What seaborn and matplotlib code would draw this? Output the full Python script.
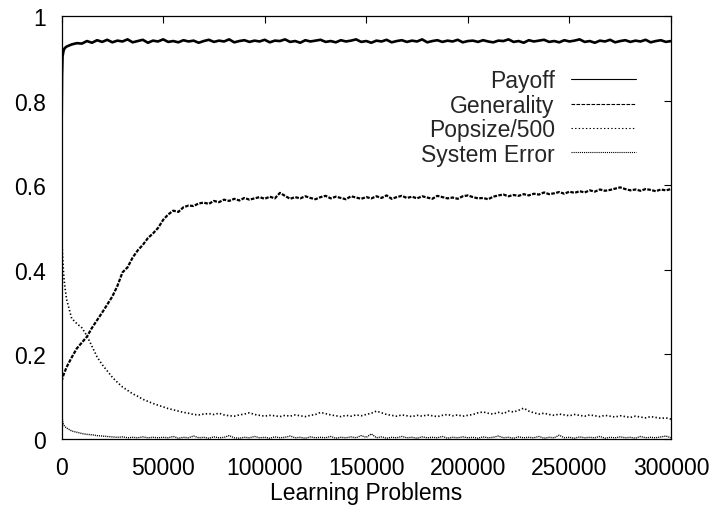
import matplotlib
matplotlib.use("Agg")
import matplotlib.pyplot as plt
import seaborn as sns
import pandas as pd

# ---------------- data ----------------
x_head = [0, 250, 500, 1000, 1500]
x_body = list(range(2500, 300001, 2500))
learning_problems = x_head + x_body

payoff = [0.72, 0.86, 0.905, 0.918, 0.924,
    0.928, 0.933, 0.936, 0.935, 0.941, 0.937, 0.943, 0.939, 0.944, 0.938,
    0.942, 0.940, 0.945, 0.938, 0.941, 0.944, 0.937, 0.942, 0.940, 0.945,
    0.939, 0.941, 0.938, 0.943, 0.940, 0.942, 0.937, 0.941, 0.944, 0.939,
    0.942, 0.940, 0.945, 0.938, 0.941, 0.943, 0.939, 0.942, 0.940, 0.944,
    0.938, 0.942, 0.941, 0.945, 0.939, 0.941, 0.937, 0.943, 0.940, 0.942,
    0.944, 0.939, 0.941, 0.938, 0.943, 0.940, 0.942, 0.945, 0.939, 0.941,
    0.937, 0.942, 0.940, 0.944, 0.938, 0.941, 0.943, 0.939, 0.942, 0.940,
    0.945, 0.938, 0.941, 0.943, 0.939, 0.942, 0.940, 0.944, 0.938, 0.941,
    0.942, 0.939, 0.943, 0.940, 0.938, 0.942, 0.941, 0.945, 0.939, 0.941,
    0.937, 0.943, 0.940, 0.942, 0.944, 0.939, 0.941, 0.938, 0.943, 0.940,
    0.942, 0.945, 0.939, 0.941, 0.937, 0.942, 0.940, 0.944, 0.938, 0.941,
    0.943, 0.939, 0.942, 0.940, 0.944, 0.938, 0.941, 0.943, 0.939, 0.941]

generality = [0.137, 0.140, 0.145, 0.152, 0.158,
    0.170, 0.193, 0.214, 0.228, 0.242, 0.263, 0.281, 0.299, 0.318, 0.337,
    0.362, 0.394, 0.406, 0.429, 0.446, 0.459, 0.475, 0.486, 0.499, 0.518,
    0.531, 0.540, 0.537, 0.548, 0.552, 0.551, 0.557, 0.559, 0.556, 0.563,
    0.560, 0.566, 0.563, 0.568, 0.564, 0.570, 0.566, 0.569, 0.572, 0.568,
    0.573, 0.569, 0.582, 0.575, 0.568, 0.572, 0.569, 0.574, 0.570, 0.567,
    0.572, 0.575, 0.569, 0.573, 0.570, 0.567, 0.574, 0.571, 0.568, 0.572,
    0.569, 0.574, 0.570, 0.576, 0.568, 0.572, 0.575, 0.570, 0.573, 0.569,
    0.574, 0.571, 0.568, 0.575, 0.572, 0.569, 0.571, 0.568, 0.574, 0.576,
    0.572, 0.569, 0.570, 0.567, 0.573, 0.576, 0.578, 0.574, 0.577, 0.575,
    0.579, 0.576, 0.580, 0.578, 0.583, 0.579, 0.581, 0.584, 0.580, 0.585,
    0.582, 0.586, 0.583, 0.588, 0.585, 0.590, 0.587, 0.589, 0.592, 0.595,
    0.591, 0.588, 0.590, 0.587, 0.591, 0.589, 0.586, 0.590, 0.588, 0.591]

popsize_500 = [0.500, 0.465, 0.435, 0.392, 0.365,
    0.330, 0.285, 0.273, 0.263, 0.244, 0.219, 0.194, 0.176, 0.161, 0.146,
    0.134, 0.123, 0.115, 0.107, 0.101, 0.094, 0.089, 0.084, 0.080, 0.076,
    0.072, 0.069, 0.066, 0.063, 0.061, 0.058, 0.057, 0.059, 0.060, 0.058,
    0.061, 0.057, 0.055, 0.054, 0.057, 0.059, 0.062, 0.058, 0.056, 0.054,
    0.056, 0.055, 0.053, 0.056, 0.054, 0.057, 0.055, 0.053, 0.056, 0.058,
    0.063, 0.060, 0.057, 0.055, 0.053, 0.056, 0.054, 0.057, 0.055, 0.058,
    0.061, 0.066, 0.062, 0.058, 0.056, 0.054, 0.057, 0.055, 0.053, 0.056,
    0.054, 0.057, 0.055, 0.053, 0.056, 0.058, 0.055, 0.057, 0.054, 0.056,
    0.058, 0.062, 0.064, 0.061, 0.059, 0.063, 0.060, 0.066, 0.064, 0.068,
    0.073, 0.066, 0.062, 0.059, 0.061, 0.058, 0.056, 0.059, 0.057, 0.055,
    0.058, 0.056, 0.054, 0.057, 0.055, 0.053, 0.056, 0.054, 0.052, 0.055,
    0.053, 0.051, 0.054, 0.052, 0.050, 0.053, 0.051, 0.049, 0.050, 0.047]

system_error = [0.160, 0.060, 0.042, 0.034, 0.030,
    0.026, 0.019, 0.016, 0.013, 0.011, 0.010, 0.008, 0.007, 0.006, 0.005,
    0.004, 0.005, 0.003, 0.004, 0.003, 0.005, 0.003, 0.004, 0.003, 0.004,
    0.003, 0.006, 0.002, 0.004, 0.003, 0.007, 0.003, 0.004, 0.002, 0.005,
    0.003, 0.004, 0.008, 0.003, 0.002, 0.004, 0.003, 0.006, 0.003, 0.004,
    0.002, 0.005, 0.003, 0.004, 0.007, 0.003, 0.004, 0.002, 0.005, 0.003,
    0.004, 0.003, 0.006, 0.002, 0.004, 0.003, 0.005, 0.003, 0.008, 0.004,
    0.012, 0.003, 0.005, 0.002, 0.004, 0.003, 0.006, 0.003, 0.004, 0.002,
    0.005, 0.003, 0.004, 0.003, 0.006, 0.002, 0.004, 0.003, 0.005, 0.003,
    0.004, 0.002, 0.005, 0.003, 0.004, 0.007, 0.003, 0.004, 0.002, 0.005,
    0.003, 0.004, 0.003, 0.006, 0.002, 0.004, 0.003, 0.009, 0.003, 0.004,
    0.002, 0.005, 0.003, 0.004, 0.003, 0.006, 0.002, 0.004, 0.003, 0.005,
    0.003, 0.004, 0.002, 0.006, 0.003, 0.004, 0.003, 0.005, 0.007, 0.003]

series_names = ["Payoff", "Generality", "Popsize/500", "System Error"]
x_ticks = [0, 50000, 100000, 150000, 200000, 250000, 300000]
x_tick_labels = ["0", "50000", "100000", "150000", "200000", "250000", "300000"]
y_ticks = [0, 0.2, 0.4, 0.6, 0.8, 1.0]
y_tick_labels = ["0", "0.2", "0.4", "0.6", "0.8", "1"]
x_label = "Learning Problems"

# ---------------- styling ----------------
sns.set_theme(style="white")
plt.rcParams["font.family"] = ["Liberation Sans", "DejaVu Sans"]
plt.rcParams["lines.scale_dashes"] = False

FS = 16.5
fig = plt.figure(figsize=(7.13, 5.06), dpi=100)
ax = fig.add_axes([0.0863, 0.1304, 0.8548, 0.8358])

values = [payoff, generality, popsize_500, system_error]
styles = {
    "Payoff": dict(lw=1.9, dashes=None),
    "Generality": dict(lw=1.6, dashes=(2.6, 1.0)),
    "Popsize/500": dict(lw=1.2, dashes=(1.0, 1.6)),
    "System Error": dict(lw=1.0, dashes=(0.8, 0.7)),
}

for name, vals in zip(series_names, values):
    df = pd.DataFrame({"x": learning_problems, "y": vals})
    st = styles[name]
    sns.lineplot(data=df, x="x", y="y", ax=ax, color="black",
                 linewidth=st["lw"], label=name, estimator=None, sort=False)
    line = ax.get_lines()[-1]
    if st["dashes"] is not None:
        line.set_dashes(st["dashes"])

ax.set_xlim(0, 300000)
ax.set_ylim(0, 1)
ax.set_xticks(x_ticks)
ax.set_xticklabels(x_tick_labels)
ax.set_yticks(y_ticks)
ax.set_yticklabels(y_tick_labels)
ax.set_xlabel(x_label, fontsize=FS, labelpad=2, color="black")
ax.set_ylabel("")

ax.tick_params(axis="both", which="major", direction="in", length=5,
               width=0.8, top=True, right=True, colors="black",
               labelsize=FS)
ax.tick_params(axis="y", pad=11.5)
ax.tick_params(axis="x", pad=12)
for sp in ax.spines.values():
    sp.set_visible(True)
    sp.set_color("black")
    sp.set_linewidth(0.9)

leg = ax.legend(loc="upper right", bbox_to_anchor=(0.943, 0.874),
                markerfirst=False, frameon=False, fontsize=FS,
                handlelength=2.83, handletextpad=0.73, labelspacing=0.06,
                borderpad=0, borderaxespad=0)
for h, name in zip(leg.get_lines(), series_names):
    h.set_linewidth(0.8)
    d = styles[name]["dashes"]
    if d is not None:
        h.set_dashes(d)

fig.savefig("out.png", dpi=100)
